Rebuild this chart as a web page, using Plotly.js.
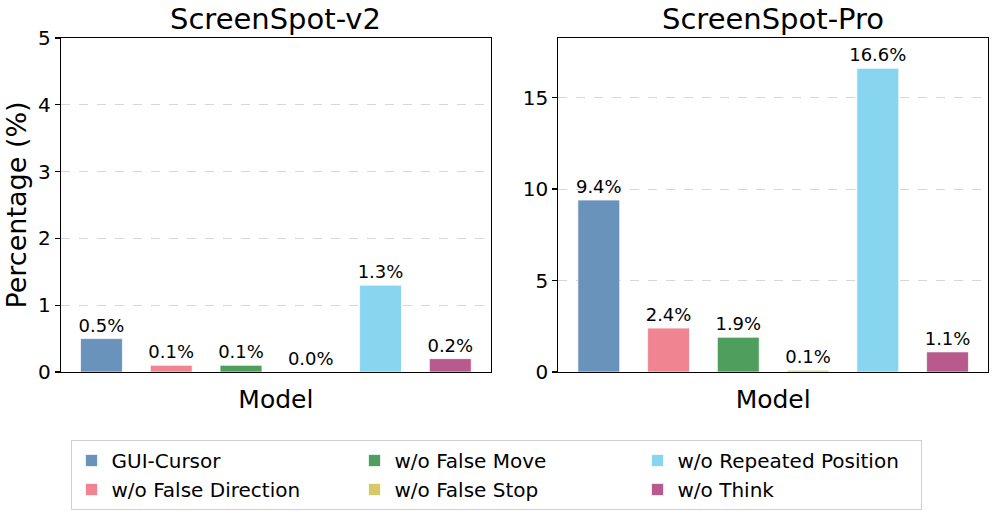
<!DOCTYPE html>
<html>
<head>
<meta charset="utf-8">
<script src="https://cdn.plot.ly/plotly-3.0.1.min.js"></script>
<style>html,body{margin:0;padding:0;background:#fff;}#chart{width:996px;height:516px;}</style>
</head>
<body>
<div id="chart"></div>
<script>
const models = ["GUI-Cursor", "w/o False Direction", "w/o False Move", "w/o False Stop", "w/o Repeated Position", "w/o Think"];
const colors = ["#6a93bb", "#f08591", "#4f9e5d", "#d6c96a", "#87d5ef", "#b85a8e"];
const screenspotV2 = [0.5, 0.1, 0.1, 0.0, 1.3, 0.2];
const screenspotPro = [9.4, 2.4, 1.9, 0.1, 16.6, 1.1];
const legendRanks = [1, 4, 2, 5, 3, 6];
const panelTitles = ["ScreenSpot-v2", "ScreenSpot-Pro"];

const FONT = "DejaVu Sans, sans-serif";
const traces = [];
[screenspotV2, screenspotPro].forEach((vals, p) => {
  models.forEach((m, i) => {
    traces.push({
      type: "bar",
      x: [m],
      y: [vals[i]],
      width: 0.6,
      name: m,
      legendgroup: m,
      showlegend: p === 0,
      legendrank: legendRanks[i],
      xaxis: p === 0 ? "x" : "x2",
      yaxis: p === 0 ? "y" : "y2",
      marker: {color: colors[i], line: {color: "rgba(255,255,255,0.7)", width: 1}},
      text: [vals[i].toFixed(1) + "%"],
      textposition: "outside",
      constraintext: "none",
      cliponaxis: false,
      textfont: {family: FONT, size: 18, color: "#000"},
      hoverinfo: "skip"
    });
  });
});

const xBase = {
  type: "category",
  categoryorder: "array",
  categoryarray: models,
  range: [-0.58, 5.58],
  showticklabels: false,
  ticks: "",
  showgrid: false,
  zeroline: false,
  showline: true, mirror: true, linecolor: "#000", linewidth: 1.2,
  title: {text: "Model", font: {family: FONT, size: 25, color: "#000"}, standoff: 18}
};
const yBase = {
  showgrid: true, gridcolor: "#cccccc", griddash: "dash", gridwidth: 0.8,
  zeroline: false,
  showline: true, mirror: true, linecolor: "#000", linewidth: 1.2,
  ticks: "outside", ticklen: 5, tickcolor: "#000", tickwidth: 1.2,
  tickfont: {family: FONT, size: 20, color: "#000"}
};

const layout = {
  width: 996, height: 516,
  margin: {l: 61, r: 8, t: 38, b: 144},
  paper_bgcolor: "#fff", plot_bgcolor: "#fff",
  barmode: "overlay",
  font: {family: FONT, color: "#000"},
  xaxis: Object.assign({}, xBase, {domain: [0, 0.4636], anchor: "y"}),
  xaxis2: Object.assign({}, xBase, {domain: [0.5365, 1], anchor: "y2"}),
  yaxis: Object.assign({}, yBase, {range: [0, 5], dtick: 1, anchor: "x",
    title: {text: "Percentage (%)", font: {family: FONT, size: 27, color: "#000"}, standoff: 3}}),
  yaxis2: Object.assign({}, yBase, {range: [0, 18.26], tickvals: [0, 5, 10, 15], anchor: "x2"}),
  annotations: panelTitles.map((t, p) => ({
    text: t, xref: p === 0 ? "x domain" : "x2 domain", yref: "paper",
    x: 0.5, y: 1, xanchor: "center", yanchor: "bottom", yshift: 0, showarrow: false,
    font: {family: FONT, size: 29, color: "#000"}
  })),
  legend: {
    orientation: "h", xref: "container", yref: "container",
    x: 0.498, xanchor: "center", y: 0.1473, yanchor: "top",
    entrywidth: 238, entrywidthmode: "pixels",
    bordercolor: "#d0d0d0", borderwidth: 1, bgcolor: "#fff",
    font: {family: FONT, size: 20, color: "#000"},
    traceorder: "normal", tracegroupgap: 0
  },
  showlegend: true
};

Plotly.newPlot("chart", traces, layout, {displayModeBar: false, staticPlot: true});
</script>
</body>
</html>
